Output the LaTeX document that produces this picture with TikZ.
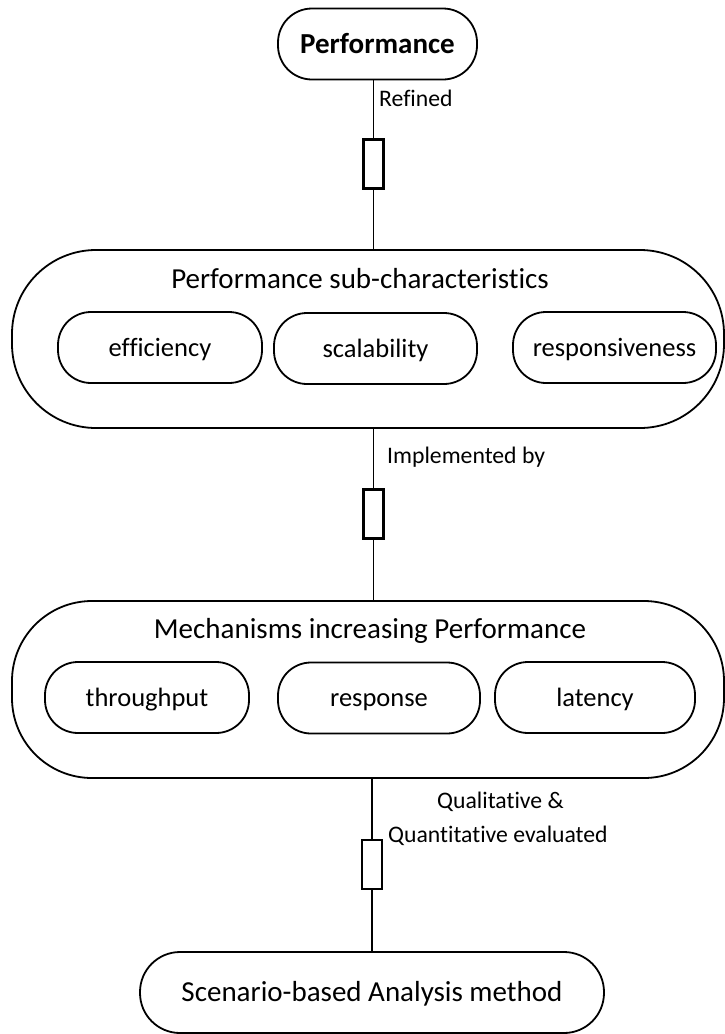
\documentclass[tikz,border=0pt]{standalone}
\usepackage{fontspec}
\setmainfont{Carlito}[Ligatures={NoCommon}]
\newcommand{\titlefont}{\fontsize{29}{34}\selectfont}
\newcommand{\itemfont}{\fontsize{26.5}{31}\selectfont}
\newcommand{\labelfont}{\fontsize{23.7}{28}\selectfont}
\begin{document}
\begin{tikzpicture}[x=1pt,y=-1pt,
  pill/.style={draw, line width=1.8pt, inner sep=0pt, align=center, text depth=0pt},
  container/.style={pill, rounded corners=84pt},
  itembox/.style={pill, rounded corners=33pt, minimum width=203pt, minimum height=71pt,
                  font=\itemfont, text height=17pt},
  relbox/.style={draw, line width=2.4pt, inner sep=0pt, minimum width=20pt, minimum height=49pt, fill=white},
  link/.style={line width=1.8pt},
  rellabel/.style={anchor=base west, inner sep=0pt, font=\labelfont}]
\useasboundingbox (0,0) rectangle (725,1034);

% top goal
\node[pill, rounded corners=34pt, minimum width=199pt, minimum height=71pt,
      font=\titlefont\bfseries, text height=18.7pt] (perf) at (377.5,44) {Performance};

% sub-characteristics container
\node[container, minimum width=712pt, minimum height=178pt] (subchar) at (368,339) {};
\node[font=\titlefont, anchor=base, inner sep=0pt] (subtitle) at (360,288) {Performance sub-characteristics};
\node[itembox, minimum width=204pt] (eff) at (160,347.5) {efficiency};
\node[itembox] (scal) at (375.5,348.5) {scalability};
\node[itembox] (resp) at (614.5,347.5) {responsiveness};

% mechanisms container
\node[container, rounded corners=80pt, minimum width=712pt, minimum height=177pt] (mech) at (368,689.5) {};
\node[font=\titlefont, anchor=base, inner sep=0pt] (mechtitle) at (370,638) {Mechanisms increasing Performance};
\node[itembox, minimum width=204pt] (thr) at (147,697.5) {throughput};
\node[itembox, minimum width=202pt] (rsp) at (379,698) {response};
\node[itembox, minimum width=200pt] (lat) at (595,697.5) {latency};

% analysis method
\node[pill, rounded corners=40pt, minimum width=464pt, minimum height=81pt,
      font=\titlefont, text height=18.7pt] (scen) at (372,992.5) {Scenario-based Analysis method};

% relation markers
\node[relbox] (r1) at (373.5,164) {};
\node[relbox] (r2) at (373.5,514) {};
\node[relbox] (r3) at (372,864.5) {};

% connectors
\draw[link] (r1) -- (r1 |- perf.south);
\draw[link] (r1) -- (r1 |- subchar.north);
\draw[link] (r2) -- (r2 |- subchar.south);
\draw[link] (r2) -- (r2 |- mech.north);
\draw[link] (r3) -- (r3 |- mech.south);
\draw[link] (r3) -- (r3 |- scen.north);

% relation labels
\node[rellabel] (l1) at (379,106) {Refined};
\node[rellabel] (l2) at (387,463) {Implemented by};
\node[rellabel] (l3a) at (437,808) {Qualitative \&};
\node[rellabel] (l3b) at (388,842) {Quantitative evaluated};
\end{tikzpicture}
\end{document}
